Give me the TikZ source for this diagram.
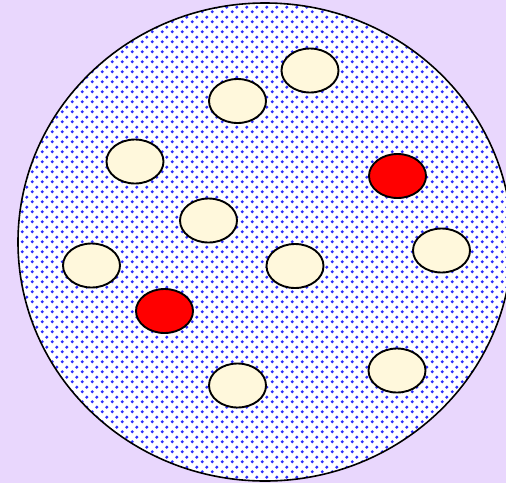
\documentclass[tikz,border=0pt]{standalone}
\usetikzlibrary{shapes.geometric,patterns}
\definecolor{bgc}{RGB}{233,215,253}
\definecolor{creamc}{RGB}{255,248,220}
\definecolor{dotc}{RGB}{45,45,255}
\pgfdeclarepatternformonly{bluedots}{\pgfqpoint{0pt}{0pt}}{\pgfqpoint{10pt}{10pt}}{\pgfqpoint{10pt}{10pt}}{%
  \pgfpathcircle{\pgfqpoint{2.5pt}{2.5pt}}{1.85pt}%
  \pgfpathcircle{\pgfqpoint{7.5pt}{7.5pt}}{1.85pt}%
  \pgfusepath{fill}}
\tikzset{
  cell/.style={ellipse, draw=black, line width=1.9pt, minimum width=57pt, minimum height=44pt, inner sep=0pt},
  cream/.style={cell, fill=creamc},
  redcell/.style={cell, fill=red},
  dish/.style={ellipse, draw=black, line width=1.6pt, minimum width=494pt, minimum height=478pt, inner sep=0pt}
}
\begin{document}
\begin{tikzpicture}[x=1pt,y=-1pt]
\fill[bgc] (0,0) rectangle (506,483);
\useasboundingbox (0,0) rectangle (506,483);
\fill[white] (265,242) ellipse [x radius=247pt, y radius=239pt];
\fill[pattern=bluedots, pattern color=dotc] (265,242) ellipse [x radius=247pt, y radius=239pt];
\node[dish] (d) at (265,242) {};
\node[cream] (e1) at (310,70.5) {};
\node[cream] (e2) at (237.5,101) {};
\node[cream] (e3) at (135,161.5) {};
\node[redcell] (r1) at (397.5,176) {};
\node[cream] (e4) at (208.5,220.5) {};
\node[cream] (e5) at (441.5,250.5) {};
\node[cream] (e6) at (91.5,265.5) {};
\node[cream] (e7) at (295,266) {};
\node[redcell] (r2) at (164.5,311) {};
\node[cream] (e8) at (397,370.5) {};
\node[cream] (e9) at (237.5,385.5) {};
\end{tikzpicture}
\end{document}
